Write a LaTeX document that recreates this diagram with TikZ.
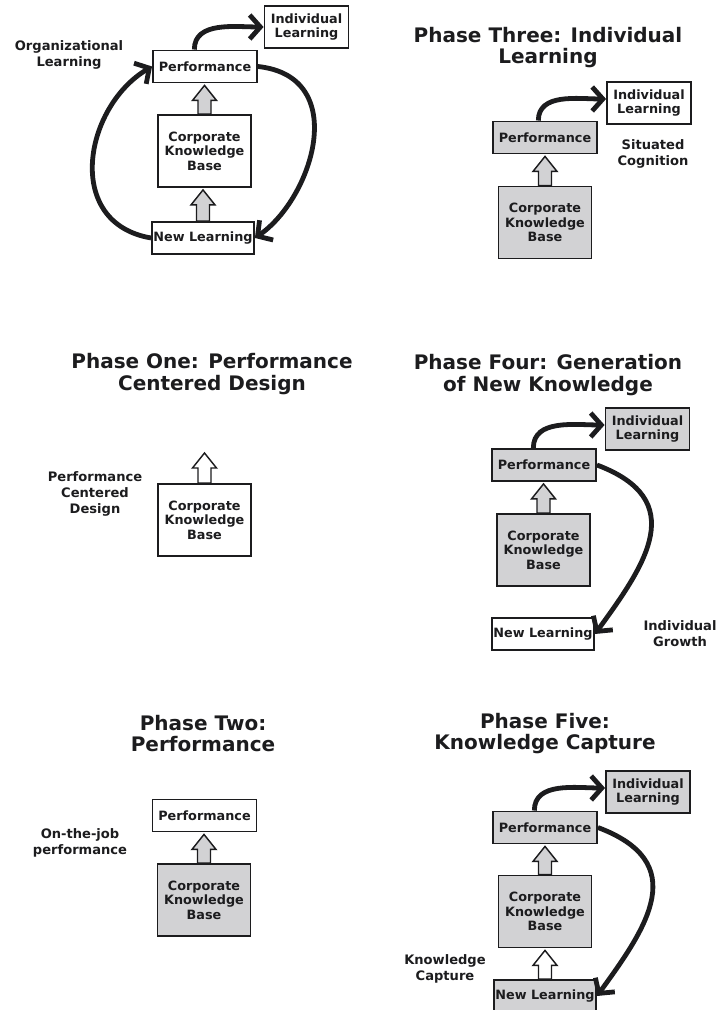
\documentclass[tikz,border=0pt]{standalone}
\usepackage{fontspec}
\setmainfont{DejaVu Sans}
\usetikzlibrary{positioning}
\usetikzlibrary{arrows.meta}
\usetikzlibrary{calc}
\definecolor{boxgray}{RGB}{210,210,212}
\definecolor{inkgray}{RGB}{28,28,30}

% hollow block arrow from a box up to a point
\newcommand{\blockup}[3]{%
  \coordinate (bt) at ($(#2.north |- #3)+(0,-2)$);
  \draw[blockline,fill=#1] ($(#2.north)+(-6.5,0)$) -- ($(bt)+(-6.5,-15)$)
    -- ($(bt)+(-12,-15)$) -- (bt) -- ($(bt)+(12,-15)$) -- ($(bt)+(6.5,-15)$)
    -- ($(#2.north)+(6.5,0)$) -- cycle;}

\begin{document}
\begin{tikzpicture}[x=0.75pt,y=0.75pt,
  box/.style={draw=inkgray,line width=1.4pt,fill=white,align=center,inner sep=0pt,
    text=inkgray,font=\fontsize{9.6}{10.8}\selectfont\bfseries},
  perfbox/.style={box,minimum width=78pt,minimum height=24pt},
  ilbox/.style={box,minimum width=63pt,minimum height=31.5pt},
  ckbbox/.style={box,minimum width=69.75pt,minimum height=54pt},
  nlbox/.style={box,minimum width=76.5pt,minimum height=24pt},
  title/.style={align=center,text=inkgray,font=\fontsize{15}{16}\selectfont\bfseries},
  note/.style={align=center,text=inkgray,font=\fontsize{9.8}{12}\selectfont\bfseries},
  loopy/.style={line width=3.6pt,draw=inkgray,-{Straight Barb[length=8pt,width=18pt]}},
  blockline/.style={draw=inkgray,line width=1.1pt,line join=miter}]

\useasboundingbox (0,0) rectangle (722,1010);

% whole cycle
\node (il0) at (306.5,983) [ilbox] {Individual\\Learning};
\node (perf0) at (205,943.5) [perfbox] {Performance};
\node (ckb0) at (204.5,859) [ckbbox] {Corporate\\Knowledge\\Base};
\node (nl0) at (203,772) [nlbox] {New Learning};
\node (org) at (69,955) [note] {Organizational\\Learning};
\blockup{boxgray}{ckb0}{perf0.south}
\blockup{boxgray}{nl0}{ckb0.south}
\draw [loopy] ([xshift=-8]perf0.north) to[out=90,in=180] (il0.west);
\draw [loopy] (perf0.east) .. controls +(93,-10) and +(58,40) .. (nl0.east);
\draw [loopy] (nl0.west) .. controls +(-88,15) and +(-68,-40) .. (perf0.west);

% phase three
\node (t3) at (548,962.5) [title] {Phase Three: Individual\\Learning};
\node (il3) at (649,907) [ilbox] {Individual\\Learning};
\node (perf3) at (545,872.5) [perfbox,fill=boxgray] {Performance};
\node (ckb3) at (545,787.5) [ckbbox,fill=boxgray] {Corporate\\Knowledge\\Base};
\node (sc) at (653,856) [note] {Situated\\Cognition};
\blockup{boxgray}{ckb3}{perf3.south}
\draw [loopy] ([xshift=-5]perf3.north) to[out=90,in=180] ([yshift=3]il3.west);

% phase one
\node (t1) at (212,636) [title] {Phase One: Performance\\Centered Design};
\node (ckb1) at (204.5,490) [ckbbox] {Corporate\\Knowledge\\Base};
\coordinate (cue1) at (204.5,559);
\node (pcd) at (95,516) [note] {Performance\\Centered\\Design};
\blockup{white}{ckb1}{cue1}

% phase four
\node (t4) at (548,635) [title] {Phase Four: Generation\\of New Knowledge};
\node (il4) at (647.5,581) [ilbox,fill=boxgray] {Individual\\Learning};
\node (perf4) at (544,545) [perfbox,fill=boxgray] {Performance};
\node (ckb4) at (543.5,460) [ckbbox,fill=boxgray] {Corporate\\Knowledge\\Base};
\node (nl4) at (543,376) [nlbox] {New Learning};
\node (ig) at (680,376.5) [note] {Individual\\Growth};
\blockup{boxgray}{ckb4}{perf4.south}
\draw [loopy] ([xshift=-8]perf4.north) to[out=90,in=180] ([yshift=3]il4.west);
\draw [loopy] (perf4.east) .. controls +(93,-35) and +(51,70) .. (nl4.east);

% phase two
\node (t2) at (203,276.5) [title] {Phase Two:\\Performance};
\node (perf2) at (204.5,194.5) [perfbox] {Performance};
\node (ckb2) at (204,110) [ckbbox,fill=boxgray] {Corporate\\Knowledge\\Base};
\node (ojp) at (80,167) [note] {On-the-job\\performance};
\blockup{boxgray}{ckb2}{perf2.south}

% phase five
\node (t5) at (545,276.5) [title] {Phase Five:\\Knowledge Capture};
\node (il5) at (648,218) [ilbox,fill=boxgray] {Individual\\Learning};
\node (perf5) at (545,182.5) [perfbox,fill=boxgray] {Performance};
\node (ckb5) at (545,98.5) [ckbbox,fill=boxgray] {Corporate\\Knowledge\\Base};
\node (nl5) at (545,14) [nlbox,fill=boxgray] {New Learning};
\node (kc) at (445,41) [note] {Knowledge\\Capture};
\blockup{boxgray}{ckb5}{perf5.south}
\blockup{white}{nl5}{ckb5.south}
\draw [loopy] ([xshift=-8]perf5.north) to[out=90,in=180] ([yshift=3]il5.west);
\draw [loopy] (perf5.east) .. controls +(93,-35) and +(51,70) .. (nl5.east);

\end{tikzpicture}
\end{document}
